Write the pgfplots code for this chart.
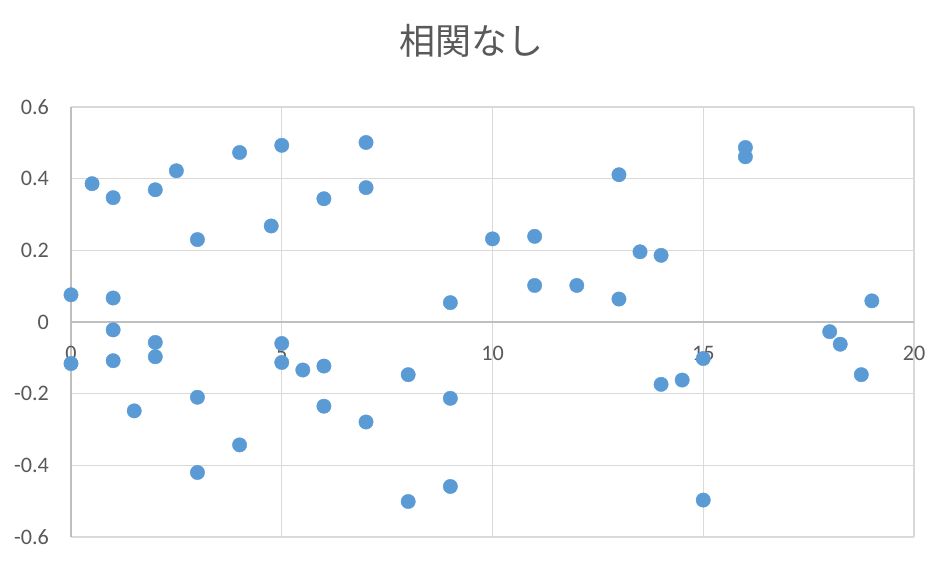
\documentclass[border=0pt]{standalone}
\usepackage{pgfplots}
\pgfplotsset{compat=1.18}
\usepackage{fontspec}
\setmainfont{Carlito}
\newfontfamily\cjk{Noto Sans CJK JP}
\definecolor{txt}{HTML}{595959}
\definecolor{gridc}{HTML}{D9D9D9}
\definecolor{axc}{HTML}{BFBFBF}
\definecolor{pt}{HTML}{5B9BD5}
\begin{document}
\begin{tikzpicture}
\begin{axis}[
  scale only axis,
  width=632.25pt, height=322.5pt,
  xmin=0, xmax=20, ymin=-0.6, ymax=0.6,
  axis x line*=middle, axis y line*=left,
  hide obscured x ticks=false, hide obscured y ticks=false,
  xtick={0,5,10,15,20},
  xticklabels={0,5,10,15,20},
  ytick={-0.6,-0.4,-0.2,0,0.2,0.4,0.6},
  yticklabels={-0.6,-0.4,-0.2,0,0.2,0.4,0.6},
  major tick length=0pt,
  grid=major,
  major grid style={gridc, line width=1pt},
  axis line style={axc, line width=1pt},
  tick label style={font=\fontsize{16.6}{19}\selectfont, text=txt, inner sep=0pt},
  xticklabel style={anchor=center, yshift=-23.8pt},
  yticklabel style={anchor=east, xshift=-16.4pt},
  clip=false,
]
\addplot[only marks, mark=*, mark size=5.4pt, mark options={fill=pt, draw=pt, line width=0.3pt}] coordinates {
(0,0.076) (0.5,0.386) (1,0.347) (1,0.067) (2,0.369) (2.5,0.422) (3,0.230)
(4,0.473) (4.75,0.268) (5,0.493) (6,0.344) (1,-0.022) (2,-0.057) (0,-0.116)
(1,-0.108) (2,-0.097) (1.5,-0.248) (3,-0.210) (4,-0.343) (3,-0.420) (5,-0.060)
(5,-0.113) (5.5,-0.134) (6,-0.123) (6,-0.235) (7,0.501) (7,0.375) (10,0.232)
(11,0.239) (11,0.102) (12,0.102) (9,0.054) (13,0.411) (13,0.064) (7,-0.279)
(8,-0.147) (9,-0.213) (9,-0.459) (8,-0.501) (13.5,0.196) (14,0.186) (16,0.487)
(16,0.461) (19,0.059) (18,-0.027) (18.25,-0.062) (18.75,-0.147) (15,-0.102)
(14,-0.174) (14.5,-0.162) (15,-0.497)
};
\coordinate (bl) at (rel axis cs:0,0);
\coordinate (tr) at (rel axis cs:1,1);
\coordinate (tt) at (rel axis cs:0.5,1);
\end{axis}
\node[font=\cjk\fontsize{27}{30}\selectfont, text=txt, inner sep=0pt] at ([shift={(-15.4pt,49.9pt)}]tt) {相関なし};
\pgfresetboundingbox
\path[use as bounding box] ([shift={(-53.25pt,-20.25pt)}]bl) rectangle ([shift={(27pt,80.25pt)}]tr);
\end{tikzpicture}
\end{document}
